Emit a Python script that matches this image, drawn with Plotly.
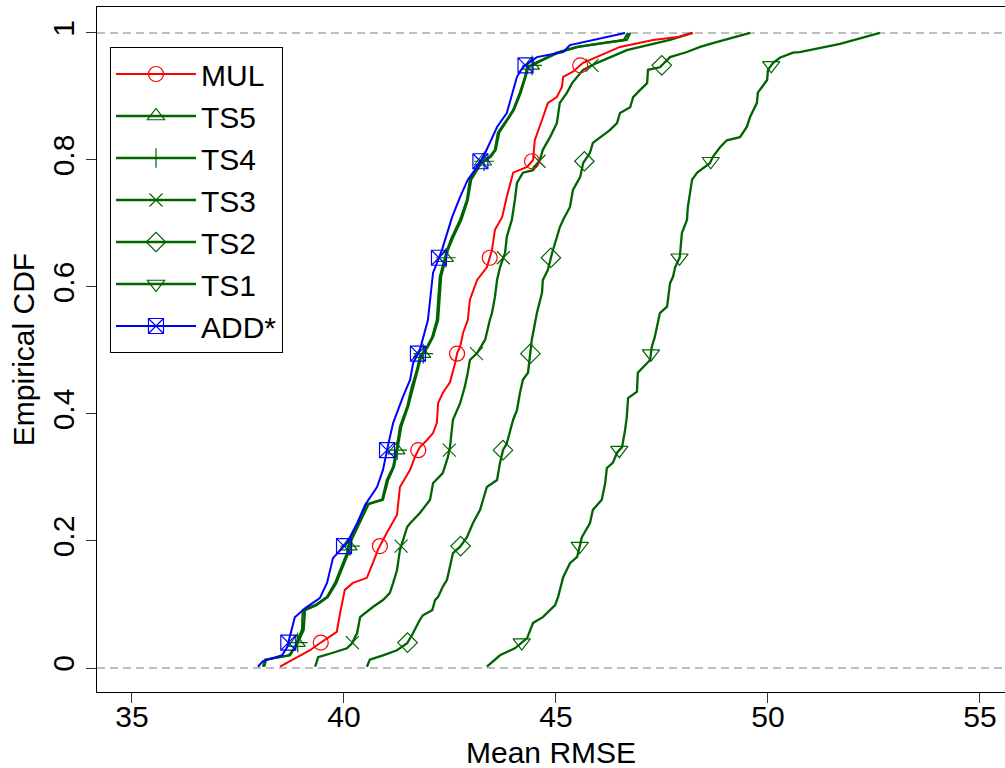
import numpy as np
import plotly.graph_objects as go

# ---------------- data ----------------
MARKER_LEVELS = [0.040, 0.192, 0.343, 0.495, 0.646, 0.798, 0.949]
CDF_BOUNDS = [0, 1]
X_TICKS = [35, 40, 45, 50, 55]
Y_TICKS = [0, 0.2, 0.4, 0.6, 0.8, 1]
Y_TICK_LABELS = ["0", "0.2", "0.4", "0.6", "0.8", "1"]
X_TITLE = "Mean RMSE"
Y_TITLE = "Empirical CDF"

MUL_X = [38.49, 38.80, 39.20, 39.43, 39.83, 39.91, 40.02, 40.21, 40.54, 40.68,
         40.80, 41.01, 41.25, 41.32, 41.56, 41.67, 41.79, 41.96, 42.10, 42.19,
         42.22, 42.33, 42.50, 42.62, 42.67, 42.74, 42.81, 42.92, 42.97, 43.14,
         43.37, 43.49, 43.56, 43.73, 43.84, 43.99, 44.32, 44.46, 44.50, 44.67,
         44.81, 45.02, 45.14, 45.17, 45.40, 45.64, 45.97, 46.51, 47.29, 47.92, 48.23]
MUL_Y = [0.002, 0.013, 0.028, 0.039, 0.057, 0.087, 0.123, 0.134, 0.142, 0.165,
         0.186, 0.213, 0.241, 0.285, 0.312, 0.332, 0.348, 0.359, 0.370, 0.386,
         0.417, 0.433, 0.450, 0.480, 0.496, 0.506, 0.528, 0.548, 0.580, 0.611,
         0.631, 0.658, 0.690, 0.710, 0.742, 0.780, 0.789, 0.800, 0.831, 0.863,
         0.890, 0.899, 0.915, 0.931, 0.939, 0.953, 0.962, 0.978, 0.989, 0.994, 1.0]

TS5_X = [38.09, 38.14, 38.73, 38.84, 39.01, 39.03, 39.32, 39.60, 39.79, 39.91,
         40.07, 40.14, 40.31, 40.45, 40.54, 40.90, 41.01, 41.16, 41.25, 41.32,
         41.49, 41.60, 41.72, 41.79, 41.96, 42.08, 42.19, 42.26, 42.43, 42.55,
         42.74, 42.90, 42.97, 43.21, 43.44, 43.56, 43.63, 43.84, 43.99, 44.15,
         44.27, 44.32, 44.55, 45.02, 45.50, 46.11, 46.67, 46.75]
TS5_Y = [0.002, 0.013, 0.020, 0.033, 0.060, 0.091, 0.099, 0.112, 0.134, 0.154,
         0.181, 0.202, 0.222, 0.244, 0.258, 0.265, 0.296, 0.317, 0.348, 0.380,
         0.411, 0.443, 0.469, 0.490, 0.506, 0.521, 0.548, 0.616, 0.658, 0.679,
         0.706, 0.737, 0.769, 0.795, 0.805, 0.816, 0.843, 0.863, 0.879, 0.906,
         0.931, 0.946, 0.954, 0.969, 0.978, 0.984, 0.989, 1.0]

TS4_X = [38.12, 38.16, 38.70, 38.86, 39.05, 39.08, 39.35, 39.62, 39.82, 39.94,
         40.10, 40.18, 40.33, 40.48, 40.58, 40.92, 41.04, 41.18, 41.27, 41.35,
         41.51, 41.63, 41.74, 41.82, 41.98, 42.10, 42.22, 42.29, 42.45, 42.58,
         42.77, 42.92, 43.00, 43.24, 43.46, 43.58, 43.66, 43.86, 44.01, 44.17,
         44.29, 44.35, 44.58, 45.05, 45.52, 46.13, 46.60, 46.70]
TS4_Y = [0.002, 0.013, 0.020, 0.033, 0.060, 0.091, 0.099, 0.112, 0.134, 0.154,
         0.181, 0.202, 0.222, 0.244, 0.258, 0.265, 0.296, 0.317, 0.348, 0.380,
         0.411, 0.443, 0.469, 0.490, 0.506, 0.521, 0.548, 0.616, 0.658, 0.679,
         0.706, 0.737, 0.769, 0.795, 0.805, 0.816, 0.843, 0.863, 0.879, 0.906,
         0.931, 0.946, 0.954, 0.969, 0.978, 0.984, 0.989, 1.0]

TS3_X = [39.32, 39.39, 39.74, 40.07, 40.19, 40.31, 40.38, 40.68, 40.92, 41.08,
         41.16, 41.25, 41.32, 41.39, 41.49, 41.56, 41.79, 42.03, 42.10, 42.33,
         42.45, 42.50, 42.57, 42.74, 42.85, 42.92, 42.97, 43.14, 43.33, 43.44,
         43.49, 43.56, 43.61, 43.68, 43.80, 43.84, 43.96, 44.03, 44.08, 44.22,
         44.46, 44.62, 44.69, 44.86, 45.02, 45.09, 45.26, 45.38, 45.64, 45.97,
         46.67, 47.69, 48.21]
TS3_Y = [0.002, 0.017, 0.024, 0.031, 0.039, 0.055, 0.080, 0.096, 0.107, 0.118,
         0.134, 0.154, 0.186, 0.202, 0.222, 0.228, 0.244, 0.265, 0.291, 0.307,
         0.332, 0.348, 0.391, 0.417, 0.443, 0.465, 0.485, 0.496, 0.517, 0.548,
         0.559, 0.584, 0.611, 0.631, 0.654, 0.679, 0.706, 0.737, 0.764, 0.780,
         0.784, 0.800, 0.816, 0.836, 0.858, 0.890, 0.906, 0.921, 0.942, 0.953,
         0.973, 0.989, 1.0]

TS2_X = [40.54, 40.61, 40.92, 41.25, 41.49, 41.63, 41.79, 41.86, 42.08, 42.15,
         42.22, 42.33, 42.43, 42.50, 42.57, 42.74, 42.90, 43.04, 43.21, 43.28,
         43.37, 43.61, 43.68, 43.75, 43.84, 43.99, 44.08, 44.15, 44.22, 44.34,
         44.39, 44.43, 44.55, 44.67, 44.69, 44.81, 44.91, 45.02, 45.09, 45.17,
         45.33, 45.40, 45.57, 45.64, 45.80, 45.87, 46.27, 46.44, 46.51, 46.75,
         46.82, 46.98, 47.15, 47.17, 47.45, 47.69, 48.09, 48.40, 48.70, 49.58]
TS2_Y = [0.002, 0.013, 0.020, 0.028, 0.039, 0.055, 0.076, 0.083, 0.091, 0.107,
         0.112, 0.128, 0.139, 0.159, 0.181, 0.191, 0.206, 0.228, 0.249, 0.265,
         0.285, 0.296, 0.323, 0.343, 0.354, 0.391, 0.406, 0.433, 0.454, 0.465,
         0.490, 0.517, 0.559, 0.591, 0.611, 0.627, 0.654, 0.679, 0.694, 0.706,
         0.726, 0.753, 0.773, 0.795, 0.811, 0.827, 0.847, 0.858, 0.874, 0.883,
         0.899, 0.910, 0.921, 0.942, 0.946, 0.962, 0.970, 0.978, 0.984, 1.0]

TS1_X = [43.37, 43.68, 44.03, 44.32, 44.46, 44.69, 44.98, 45.05, 45.17, 45.33,
         45.50, 45.61, 45.80, 45.87, 46.08, 46.16, 46.20, 46.34, 46.44, 46.56,
         46.63, 46.67, 46.70, 46.91, 46.93, 47.05, 47.22, 47.26, 47.33, 47.45,
         47.62, 47.69, 47.76, 47.81, 47.92, 47.97, 48.09, 48.11, 48.21, 48.33,
         48.63, 48.70, 48.87, 49.03, 49.34, 49.50, 49.58, 49.74, 49.76, 49.86,
         49.98, 50.00, 50.12, 50.28, 50.59, 50.75, 51.70, 52.64]
TS1_Y = [0.002, 0.020, 0.031, 0.047, 0.071, 0.080, 0.099, 0.112, 0.143, 0.165,
         0.175, 0.206, 0.228, 0.249, 0.265, 0.291, 0.315, 0.323, 0.339, 0.348,
         0.375, 0.395, 0.425, 0.435, 0.465, 0.474, 0.485, 0.506, 0.521, 0.559,
         0.569, 0.606, 0.616, 0.631, 0.647, 0.685, 0.706, 0.726, 0.769, 0.780,
         0.795, 0.805, 0.820, 0.831, 0.836, 0.852, 0.868, 0.890, 0.906, 0.915,
         0.926, 0.942, 0.953, 0.961, 0.969, 0.970, 0.983, 1.0]

ADD_X = [37.97, 38.09, 38.54, 38.66, 38.84, 39.08, 39.43, 39.60, 39.74, 40.07,
         40.31, 40.50, 40.78, 40.92, 41.04, 41.16, 41.39, 41.56, 41.63, 41.79,
         41.98, 42.10, 42.31, 42.55, 42.74, 42.92, 43.14, 43.33, 43.61, 43.84,
         44.08, 44.22, 44.55, 45.17, 45.33, 46.11, 46.63]
ADD_Y = [0.002, 0.011, 0.020, 0.033, 0.080, 0.094, 0.110, 0.134, 0.173, 0.197,
         0.228, 0.257, 0.285, 0.312, 0.351, 0.386, 0.427, 0.454, 0.480, 0.501,
         0.548, 0.622, 0.658, 0.710, 0.742, 0.769, 0.789, 0.811, 0.852, 0.874,
         0.931, 0.946, 0.962, 0.970, 0.981, 0.992, 1.0]

GREEN = "#006400"
# legend order
SERIES = [
    ("MUL", MUL_X, MUL_Y, "#FF0000", "circle-open", 15),
    ("TS5", TS5_X, TS5_Y, GREEN, "triangle-up-open", 15),
    ("TS4", TS4_X, TS4_Y, GREEN, "cross-thin-open", 14),
    ("TS3", TS3_X, TS3_Y, GREEN, "x-thin-open", 13),
    ("TS2", TS2_X, TS2_Y, GREEN, "diamond-open", 15),
    ("TS1", TS1_X, TS1_Y, GREEN, "triangle-down-open", 15),
    ("ADD*", ADD_X, ADD_Y, "#0000FF", "square-x-open", 15),
]
DRAW_ORDER = ["TS1", "TS2", "TS3", "TS4", "TS5", "MUL", "ADD*"]

FONT = "Liberation Sans, Arial, Helvetica, sans-serif"

fig = go.Figure()

lookup = {s[0]: s for s in SERIES}
for name in DRAW_ORDER:
    _, xs, ys, color, symbol, msize = lookup[name]
    lw = 2.3 if color == GREEN else 2.0
    fig.add_trace(go.Scatter(x=xs, y=ys, mode="lines",
                             line=dict(color=color, width=lw),
                             legendgroup=name, showlegend=False, hoverinfo="skip"))
    mx = np.interp(MARKER_LEVELS, ys, xs)
    fig.add_trace(go.Scatter(x=mx, y=MARKER_LEVELS, mode="markers",
                             marker=dict(symbol=symbol, size=msize, color=color,
                                         line=dict(color=color, width=1.2)),
                             legendgroup=name, showlegend=False, hoverinfo="skip"))

# legend entries (line + marker), in legend order
for name, xs, ys, color, symbol, msize in SERIES:
    lw = 2.3 if color == GREEN else 2.0
    fig.add_trace(go.Scatter(x=[None], y=[None], mode="lines+markers", name=name,
                             line=dict(color=color, width=lw),
                             marker=dict(symbol=symbol, size=msize, color=color,
                                         line=dict(color=color, width=1.2)),
                             legendgroup=name, showlegend=True))

for yv in CDF_BOUNDS:
    fig.add_shape(type="line", xref="paper", x0=0, x1=1, yref="y", y0=yv, y1=yv,
                  line=dict(color="#BEBEBE", width=2, dash="8px,5px"), layer="below")

# x-axis title as an annotation so it can sit as low as in the reference
fig.add_annotation(text=X_TITLE, xref="paper", yref="paper", x=0.5, y=0,
                   xanchor="center", yanchor="top", yshift=-42, showarrow=False,
                   font=dict(family=FONT, size=30, color="black"))

fig.update_layout(
    width=1005, height=768,
    margin=dict(l=97, r=0, t=7, b=76),
    plot_bgcolor="white", paper_bgcolor="white",
    font=dict(family=FONT, size=30, color="black"),
    showlegend=True,
    legend=dict(x=0.0143, y=0.9416, xanchor="left", yanchor="top",
                bordercolor="black", borderwidth=1, bgcolor="white",
                font=dict(family=FONT, size=30, color="black"),
                itemwidth=80, tracegroupgap=0, traceorder="normal"),
)
fig.update_xaxes(range=[34.175, 55.59], tickvals=X_TICKS, ticks="outside", ticklen=10,
                 tickcolor="#333", tickwidth=1, ticklabelstandoff=-12,
                 showline=True, linecolor="black", linewidth=1, mirror=True,
                 showgrid=False, zeroline=False, automargin=False,
                 tickfont=dict(family=FONT, size=30, color="black"))
fig.update_yaxes(range=[-0.0378, 1.0409], tickvals=Y_TICKS, ticktext=Y_TICK_LABELS,
                 tickangle=-90, ticks="outside", ticklen=10, tickcolor="#333", tickwidth=1,
                 showline=True, linecolor="black", linewidth=1, mirror=False,
                 showgrid=False, zeroline=False, automargin=False,
                 tickfont=dict(family=FONT, size=30, color="black"),
                 title=dict(text=Y_TITLE, standoff=3,
                            font=dict(family=FONT, size=30, color="black")))

fig.write_html("out.html", config={"displayModeBar": False},
               post_script="document.body.style.margin='0px';")
